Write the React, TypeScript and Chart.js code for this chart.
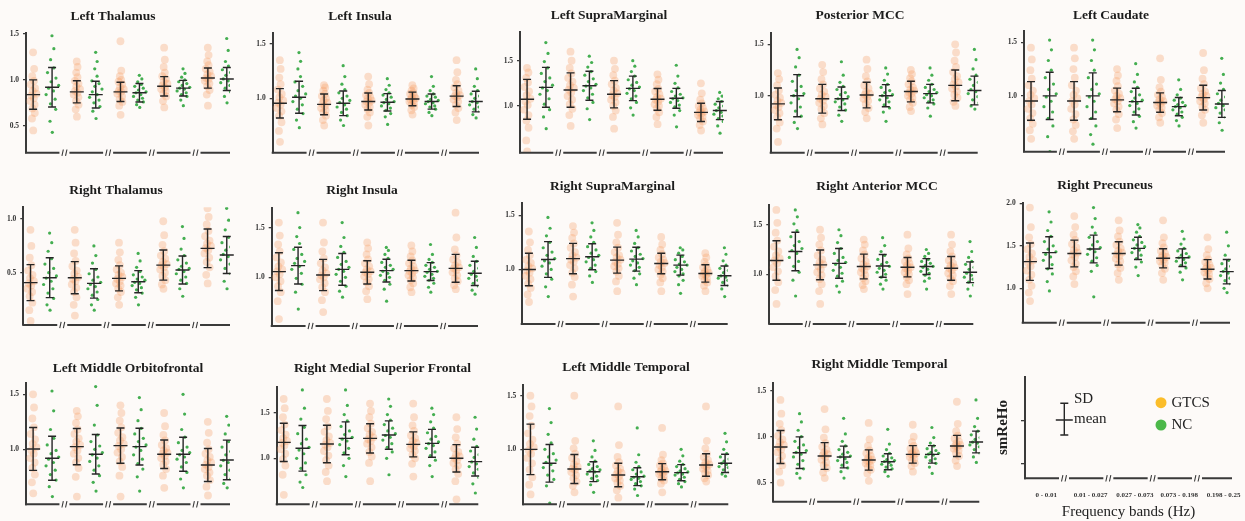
import React, { useEffect, useRef } from "react";
import { Chart, registerables } from "chart.js";

Chart.register(...registerables);

const FONT = '"Liberation Serif", "Times New Roman", "DejaVu Serif", serif';
const BG = "#fdfaf8";
const AXIS = "#3a3a3a";

const BANDS = ["0 - 0.01", "0.01 - 0.027", "0.027 - 0.073", "0.073 - 0.198", "0.198 - 0.25"];
const GROUPS = ["GTCS", "NC"];
const LEGEND_Y_TICKS = [0.14, 0.57];

// ---------- Left Thalamus ----------
const LT_TICKS = [0.5, 1.0, 1.5];
const LT_GTCS_MEAN = [0.84, 0.87, 0.87, 0.93, 1.02];
const LT_GTCS_SD = [0.16, 0.12, 0.105, 0.105, 0.11];
const LT_NC_MEAN = [0.92, 0.84, 0.86, 0.91, 1.01];
const LT_NC_SD = [0.215, 0.145, 0.1, 0.085, 0.125];
const LT_GTCS_PTS = [
  [45, 58, 64, 69, 73, 77, 80, 83, 85, 88, 91, 95, 99, 104, 112, 130],
  [60, 68, 73, 77, 81, 84, 86, 88, 90, 93, 96, 99, 103, 108, 114, 120],
  [62, 72, 76, 79, 82, 85, 87, 88, 90, 92, 95, 98, 100, 104, 110, 142],
  [70, 77, 82, 85, 88, 90, 92, 94, 96, 98, 101, 104, 108, 114, 122, 135],
  [72, 84, 89, 93, 96, 99, 101, 102, 104, 106, 109, 112, 116, 120, 127, 135],
];
const LT_NC_PTS = [
  [43, 55, 68, 74, 79, 84, 88, 91, 94, 98, 102, 108, 113, 122, 134, 148],
  [58, 66, 71, 75, 78, 81, 84, 87, 90, 93, 96, 99, 104, 112, 120, 130],
  [70, 73, 76, 78, 80, 82, 84, 86, 87, 89, 91, 93, 95, 98, 101, 105],
  [72, 78, 82, 84, 86, 88, 90, 91, 92, 94, 96, 98, 100, 103, 107, 112],
  [75, 82, 87, 91, 94, 97, 99, 101, 103, 105, 108, 111, 115, 120, 132, 145],
];

// ---------- Left Insula ----------
const LI_TICKS = [1.0, 1.5];
const LI_GTCS_MEAN = [0.954, 0.944, 0.97, 0.994, 1.02];
const LI_GTCS_SD = [0.135, 0.095, 0.078, 0.063, 0.095];
const LI_NC_MEAN = [1.01, 0.954, 0.963, 0.97, 0.97];
const LI_NC_SD = [0.147, 0.113, 0.08, 0.07, 0.095];
const LI_GTCS_PTS = [
  [60, 70, 78, 84, 88, 91, 94, 96, 98, 101, 104, 108, 113, 119, 127, 135],
  [75, 80, 84, 87, 89, 91, 93, 95, 96, 98, 100, 102, 104, 107, 110, 112],
  [75, 83, 87, 90, 92, 94, 96, 97, 98, 100, 101, 103, 105, 108, 113, 120],
  [85, 89, 92, 94, 96, 97, 98, 99, 100, 101, 102, 104, 105, 107, 109, 112],
  [80, 87, 91, 94, 97, 99, 101, 102, 103, 105, 107, 110, 113, 117, 124, 135],
];
const LI_NC_PTS = [
  [73, 80, 86, 90, 94, 97, 100, 102, 104, 107, 111, 115, 120, 127, 134, 142],
  [75, 80, 84, 87, 90, 92, 94, 96, 98, 100, 102, 105, 108, 113, 120, 130],
  [76, 83, 86, 89, 91, 93, 95, 96, 97, 99, 101, 103, 105, 108, 112, 118],
  [84, 87, 90, 92, 93, 95, 96, 97, 98, 99, 101, 102, 104, 107, 111, 120],
  [82, 85, 88, 90, 92, 94, 96, 97, 98, 100, 102, 104, 107, 111, 118, 127],
];

// ---------- Left SupraMarginal ----------
const LS_TICKS = [1.0, 1.5];
const LS_GTCS_MEAN = [1.074, 1.176, 1.13, 1.074, 0.93];
const LS_GTCS_SD = [0.22, 0.19, 0.15, 0.12, 0.1];
const LS_NC_MEAN = [1.206, 1.224, 1.195, 1.085, 0.95];
const LS_NC_SD = [0.22, 0.16, 0.135, 0.11, 0.1];
const LS_GTCS_PTS = [
  [50, 62, 76, 84, 90, 96, 101, 105, 108, 112, 116, 121, 126, 131, 137, 142],
  [78, 90, 97, 102, 107, 111, 115, 118, 120, 123, 127, 131, 136, 142, 150, 160],
  [75, 88, 95, 100, 104, 107, 110, 112, 114, 117, 120, 124, 128, 134, 141, 150],
  [80, 88, 93, 97, 100, 102, 105, 107, 108, 110, 113, 116, 119, 124, 129, 135],
  [73, 79, 83, 86, 88, 90, 92, 93, 94, 96, 98, 100, 103, 107, 114, 125],
];
const LS_NC_PTS = [
  [75, 88, 96, 102, 108, 113, 117, 120, 123, 127, 131, 136, 142, 149, 158, 170],
  [85, 97, 104, 109, 113, 117, 120, 122, 124, 127, 130, 134, 138, 143, 148, 155],
  [90, 98, 104, 108, 111, 114, 117, 119, 121, 123, 126, 129, 133, 138, 144, 150],
  [77, 90, 95, 99, 101, 104, 106, 108, 109, 111, 113, 116, 120, 125, 133, 145],
  [70, 78, 83, 86, 89, 91, 93, 95, 96, 98, 100, 102, 105, 108, 111, 115],
];

// ---------- Posterior MCC ----------
const PM_TICKS = [1.0, 1.5];
const PM_GTCS_MEAN = [0.92, 0.97, 1.006, 1.04, 1.1];
const PM_GTCS_SD = [0.155, 0.14, 0.125, 0.1, 0.15];
const PM_NC_MEAN = [1.0, 0.97, 1.0, 1.02, 1.05];
const PM_NC_SD = [0.205, 0.115, 0.108, 0.09, 0.14];
const PM_GTCS_PTS = [
  [55, 68, 74, 79, 83, 86, 89, 91, 93, 95, 98, 101, 105, 110, 116, 122],
  [72, 78, 83, 87, 90, 93, 95, 97, 99, 101, 104, 107, 111, 116, 123, 130],
  [78, 84, 88, 92, 95, 97, 99, 101, 102, 104, 107, 110, 114, 119, 126, 135],
  [85, 89, 93, 96, 98, 100, 102, 103, 105, 106, 108, 111, 114, 117, 121, 125],
  [90, 94, 98, 101, 104, 107, 109, 111, 113, 116, 119, 123, 128, 134, 142, 150],
];
const PM_NC_PTS = [
  [68, 74, 80, 85, 89, 93, 97, 100, 102, 105, 109, 114, 120, 128, 137, 145],
  [75, 81, 86, 89, 92, 94, 96, 97, 99, 101, 103, 106, 109, 113, 120, 133],
  [75, 84, 88, 91, 94, 96, 98, 100, 101, 103, 105, 108, 111, 115, 121, 127],
  [80, 88, 92, 94, 96, 98, 100, 101, 103, 104, 106, 108, 111, 115, 120, 127],
  [87, 90, 93, 96, 99, 102, 104, 106, 108, 110, 113, 116, 120, 126, 135, 145],
];

// ---------- Left Caudate ----------
const LC_TICKS = [1.0, 1.5];
const LC_GTCS_MEAN = [0.953, 0.953, 0.963, 0.938, 0.984];
const LC_GTCS_SD = [0.18, 0.18, 0.11, 0.09, 0.115];
const LC_NC_MEAN = [1.0, 1.0, 0.947, 0.9, 0.925];
const LC_NC_SD = [0.22, 0.215, 0.125, 0.085, 0.125];
const LC_GTCS_PTS = [
  [60, 68, 74, 79, 84, 88, 92, 95, 98, 101, 105, 110, 116, 124, 134, 145],
  [60, 67, 73, 78, 83, 88, 92, 95, 98, 101, 105, 110, 117, 125, 135, 145],
  [70, 78, 83, 87, 90, 93, 95, 97, 98, 100, 102, 105, 109, 114, 119, 125],
  [75, 80, 84, 87, 89, 91, 93, 94, 95, 97, 99, 101, 104, 108, 115, 135],
  [75, 82, 87, 90, 93, 95, 97, 99, 100, 102, 104, 107, 111, 116, 124, 140],
];
const LC_NC_PTS = [
  [48, 62, 72, 79, 85, 90, 95, 99, 102, 106, 111, 117, 124, 133, 143, 152],
  [55, 64, 72, 79, 85, 90, 95, 99, 102, 106, 111, 117, 124, 133, 143, 152],
  [70, 76, 81, 85, 88, 91, 93, 95, 96, 98, 101, 104, 108, 113, 120, 130],
  [72, 77, 80, 83, 85, 87, 89, 90, 91, 92, 94, 96, 98, 101, 106, 115],
  [68, 75, 80, 84, 87, 89, 91, 93, 94, 96, 99, 102, 106, 112, 120, 135],
];

// ---------- Right Thalamus ----------
const RT_TICKS = [0.5, 1.0];
const RT_GTCS_MEAN = [0.407, 0.453, 0.447, 0.571, 0.727];
const RT_GTCS_SD = [0.168, 0.15, 0.117, 0.14, 0.18];
const RT_NC_MEAN = [0.453, 0.4, 0.416, 0.525, 0.665];
const RT_NC_SD = [0.186, 0.137, 0.103, 0.13, 0.172];
const RT_GTCS_PTS = [
  [5, 15, 22, 28, 32, 35, 38, 40, 42, 45, 48, 52, 57, 64, 75, 90],
  [10, 20, 27, 32, 36, 39, 42, 44, 46, 49, 52, 56, 61, 68, 78, 90],
  [20, 27, 32, 35, 38, 40, 42, 44, 46, 48, 50, 53, 57, 62, 69, 78],
  [35, 39, 43, 47, 50, 53, 55, 57, 58, 60, 63, 66, 70, 76, 85, 98],
  [40, 48, 55, 60, 64, 68, 71, 73, 75, 77, 80, 84, 89, 95, 102, 110],
];
const RT_NC_PTS = [
  [15, 20, 26, 31, 35, 39, 42, 45, 47, 50, 54, 58, 63, 70, 78, 87],
  [15, 20, 25, 29, 32, 35, 37, 39, 41, 43, 46, 49, 53, 59, 66, 75],
  [20, 27, 31, 34, 36, 38, 40, 41, 43, 44, 46, 48, 51, 55, 61, 68],
  [28, 35, 40, 43, 46, 49, 51, 53, 54, 56, 59, 62, 66, 72, 82, 93],
  [35, 42, 49, 54, 58, 62, 65, 67, 69, 71, 74, 78, 83, 90, 99, 110],
];

// ---------- Right Insula ----------
const RI_TICKS = [1.0, 1.5];
const RI_GTCS_MEAN = [1.057, 1.023, 1.05, 1.067, 1.09];
const RI_GTCS_SD = [0.19, 0.157, 0.117, 0.105, 0.14];
const RI_NC_MEAN = [1.117, 1.08, 1.067, 1.057, 1.04];
const RI_NC_SD = [0.185, 0.16, 0.114, 0.09, 0.122];
const RI_GTCS_PTS = [
  [58, 76, 85, 91, 96, 100, 103, 106, 108, 111, 115, 120, 126, 133, 142, 155],
  [65, 77, 85, 90, 94, 98, 100, 102, 104, 107, 110, 114, 119, 126, 135, 155],
  [78, 86, 91, 95, 98, 101, 103, 105, 106, 108, 111, 114, 118, 123, 129, 135],
  [85, 90, 94, 97, 100, 102, 104, 106, 107, 109, 111, 114, 117, 121, 126, 132],
  [88, 92, 96, 99, 102, 105, 107, 109, 110, 112, 115, 118, 122, 128, 140, 165],
];
const RI_NC_PTS = [
  [68, 85, 93, 99, 104, 108, 111, 114, 116, 119, 123, 128, 134, 141, 150, 165],
  [80, 86, 91, 96, 100, 103, 106, 108, 110, 113, 116, 120, 125, 131, 140, 155],
  [76, 88, 93, 97, 100, 102, 104, 106, 108, 110, 112, 115, 119, 123, 127, 130],
  [85, 90, 94, 97, 99, 101, 103, 105, 106, 108, 110, 112, 115, 118, 123, 133],
  [83, 87, 91, 94, 97, 99, 101, 103, 104, 106, 109, 112, 116, 121, 130, 140],
];

// ---------- Right SupraMarginal ----------
const RS_TICKS = [1.0, 1.5];
const RS_GTCS_MEAN = [1.0, 1.1, 1.086, 1.055, 0.963];
const RS_GTCS_SD = [0.15, 0.14, 0.12, 0.095, 0.08];
const RS_NC_MEAN = [1.092, 1.117, 1.095, 1.04, 0.942];
const RS_NC_SD = [0.165, 0.12, 0.11, 0.092, 0.09];
const RS_GTCS_PTS = [
  [70, 77, 83, 87, 91, 94, 97, 99, 101, 103, 106, 109, 113, 118, 125, 135],
  [75, 86, 93, 97, 101, 104, 107, 109, 111, 113, 116, 120, 124, 129, 134, 140],
  [80, 89, 94, 98, 101, 103, 105, 107, 109, 111, 113, 116, 120, 125, 132, 143],
  [80, 88, 92, 95, 98, 100, 102, 104, 106, 107, 109, 111, 114, 118, 123, 130],
  [80, 85, 88, 90, 92, 94, 95, 96, 97, 98, 100, 102, 104, 107, 111, 115],
];
const RS_NC_PTS = [
  [75, 84, 91, 96, 100, 103, 106, 108, 110, 113, 116, 120, 125, 131, 138, 148],
  [88, 94, 98, 101, 104, 107, 109, 111, 113, 115, 118, 121, 125, 130, 136, 143],
  [86, 92, 96, 99, 102, 104, 106, 108, 110, 112, 114, 117, 120, 124, 130, 136],
  [78, 86, 90, 94, 96, 98, 100, 102, 104, 105, 107, 109, 112, 115, 118, 120],
  [75, 82, 85, 88, 90, 92, 93, 94, 95, 97, 99, 101, 104, 108, 114, 120],
];

// ---------- Right Anterior MCC ----------
const RA_TICKS = [1.0, 1.5];
const RA_GTCS_MEAN = [1.139, 1.095, 1.078, 1.071, 1.06];
const RA_GTCS_SD = [0.2, 0.15, 0.125, 0.098, 0.12];
const RA_NC_MEAN = [1.23, 1.11, 1.084, 1.078, 1.02];
const RA_NC_SD = [0.195, 0.15, 0.115, 0.08, 0.105];
const RA_GTCS_PTS = [
  [70, 84, 92, 98, 103, 107, 111, 114, 116, 119, 123, 128, 134, 142, 152, 165],
  [70, 83, 90, 95, 99, 102, 105, 108, 110, 112, 115, 119, 124, 130, 137, 145],
  [85, 89, 93, 96, 99, 102, 104, 106, 108, 110, 113, 116, 120, 124, 130, 135],
  [80, 90, 94, 97, 100, 102, 104, 106, 107, 109, 111, 113, 116, 120, 126, 140],
  [80, 88, 93, 96, 99, 101, 104, 106, 107, 109, 111, 114, 118, 123, 130, 140],
];
const RA_NC_PTS = [
  [78, 94, 102, 108, 113, 117, 121, 124, 126, 129, 133, 138, 144, 151, 158, 165],
  [82, 88, 93, 98, 101, 104, 107, 110, 112, 114, 117, 121, 126, 132, 139, 145],
  [85, 90, 94, 97, 100, 102, 104, 106, 108, 110, 112, 115, 119, 123, 129, 137],
  [85, 93, 96, 99, 101, 103, 105, 107, 108, 109, 111, 113, 115, 118, 121, 125],
  [78, 85, 89, 92, 95, 97, 99, 101, 103, 105, 107, 110, 113, 117, 123, 133],
];

// ---------- Right Precuneus ----------
const RP_TICKS = [1.0, 1.5, 2.0];
const RP_GTCS_MEAN = [1.314, 1.41, 1.41, 1.353, 1.224];
const RP_GTCS_SD = [0.22, 0.157, 0.137, 0.112, 0.114];
const RP_NC_MEAN = [1.42, 1.463, 1.47, 1.36, 1.196];
const RP_NC_SD = [0.186, 0.163, 0.13, 0.104, 0.143];
const RP_GTCS_PTS = [
  [85, 95, 103, 110, 116, 121, 126, 130, 133, 137, 141, 146, 152, 160, 172, 195],
  [105, 114, 120, 125, 129, 133, 137, 140, 142, 145, 148, 152, 157, 163, 172, 185],
  [110, 118, 124, 128, 132, 135, 138, 140, 142, 144, 147, 151, 155, 161, 168, 180],
  [110, 118, 123, 127, 130, 132, 134, 136, 137, 139, 141, 144, 148, 153, 160, 180],
  [100, 106, 111, 114, 117, 119, 121, 123, 124, 126, 128, 131, 134, 139, 146, 160],
];
const RP_NC_PTS = [
  [97, 108, 117, 123, 128, 133, 137, 140, 143, 146, 150, 155, 161, 168, 178, 190],
  [90, 120, 127, 132, 136, 140, 143, 146, 148, 151, 155, 160, 165, 172, 182, 195],
  [115, 125, 131, 135, 139, 142, 145, 147, 149, 151, 154, 157, 161, 166, 171, 175],
  [110, 119, 124, 127, 130, 132, 134, 136, 137, 139, 141, 144, 147, 152, 158, 167],
  [95, 100, 105, 109, 112, 115, 118, 120, 121, 123, 126, 129, 133, 139, 150, 166],
];

// ---------- Left Middle Orbitofrontal ----------
const LO_TICKS = [1.0, 1.5];
const LO_GTCS_MEAN = [1.003, 1.024, 1.033, 0.955, 0.857];
const LO_GTCS_SD = [0.195, 0.165, 0.16, 0.13, 0.15];
const LO_NC_MEAN = [0.918, 0.955, 1.024, 0.955, 0.903];
const LO_NC_SD = [0.2, 0.18, 0.167, 0.155, 0.18];
const LO_GTCS_PTS = [
  [60, 70, 77, 83, 88, 92, 96, 99, 102, 105, 109, 114, 120, 128, 138, 150],
  [57, 75, 83, 88, 92, 96, 99, 102, 104, 107, 110, 114, 118, 124, 130, 135],
  [57, 76, 84, 89, 93, 97, 100, 103, 105, 108, 111, 115, 120, 126, 133, 140],
  [65, 76, 82, 86, 89, 92, 94, 96, 97, 99, 101, 104, 108, 113, 121, 133],
  [58, 66, 72, 76, 79, 82, 84, 86, 88, 90, 93, 96, 100, 106, 115, 125],
];
const LO_NC_PTS = [
  [57, 66, 72, 77, 81, 85, 88, 91, 93, 96, 99, 104, 110, 118, 135, 153],
  [62, 70, 76, 81, 85, 89, 92, 95, 97, 100, 103, 107, 113, 122, 140, 157],
  [62, 75, 82, 87, 91, 95, 99, 102, 104, 107, 110, 114, 119, 126, 136, 147],
  [65, 73, 79, 84, 88, 91, 93, 95, 97, 99, 102, 106, 111, 118, 132, 150],
  [65, 69, 73, 77, 81, 85, 88, 90, 92, 95, 98, 102, 107, 114, 122, 130],
];

// ---------- Right Medial Superior Frontal ----------
const RM_TICKS = [1.0, 1.5];
const RM_GTCS_MEAN = [1.175, 1.157, 1.219, 1.153, 1.0];
const RM_GTCS_SD = [0.21, 0.205, 0.16, 0.137, 0.15];
const RM_NC_MEAN = [1.11, 1.219, 1.255, 1.164, 0.964];
const RM_NC_SD = [0.25, 0.18, 0.155, 0.153, 0.157];
const RM_GTCS_PTS = [
  [60, 82, 92, 99, 105, 110, 114, 117, 119, 122, 126, 131, 137, 145, 155, 165],
  [75, 85, 92, 98, 103, 108, 112, 115, 117, 120, 124, 129, 135, 143, 152, 165],
  [75, 95, 102, 107, 112, 116, 119, 121, 123, 126, 129, 133, 138, 145, 152, 160],
  [80, 94, 100, 104, 108, 111, 113, 115, 117, 119, 122, 125, 130, 136, 145, 160],
  [55, 75, 83, 88, 92, 95, 98, 100, 102, 104, 107, 111, 116, 123, 132, 145],
];
const RM_NC_PTS = [
  [68, 74, 82, 89, 95, 100, 105, 109, 112, 116, 121, 127, 134, 143, 155, 175],
  [80, 92, 100, 106, 111, 115, 119, 121, 123, 126, 130, 135, 141, 148, 158, 175],
  [82, 100, 107, 112, 116, 120, 123, 125, 127, 130, 133, 137, 142, 148, 157, 165],
  [80, 92, 98, 103, 107, 111, 114, 116, 118, 121, 124, 128, 133, 140, 148, 155],
  [62, 72, 79, 84, 88, 91, 94, 96, 98, 101, 104, 108, 113, 121, 132, 145],
];

// ---------- Left Middle Temporal ----------
const LM_TICKS = [1.0, 1.5];
const LM_GTCS_MEAN = [1.0, 0.817, 0.761, 0.792, 0.854];
const LM_GTCS_SD = [0.235, 0.135, 0.11, 0.075, 0.105];
const LM_NC_MEAN = [0.87, 0.792, 0.745, 0.783, 0.87];
const LM_NC_SD = [0.175, 0.093, 0.083, 0.075, 0.085];
const LM_GTCS_PTS = [
  [58, 67, 74, 81, 87, 92, 96, 99, 102, 105, 109, 115, 122, 131, 140, 150],
  [60, 66, 70, 73, 76, 79, 81, 82, 84, 86, 89, 92, 96, 101, 108, 150],
  [55, 62, 66, 69, 71, 73, 75, 77, 78, 80, 82, 85, 88, 93, 104, 140],
  [60, 68, 71, 73, 75, 77, 78, 79, 80, 81, 83, 85, 87, 90, 95, 120],
  [70, 73, 76, 78, 80, 82, 84, 85, 86, 88, 90, 93, 96, 101, 108, 140],
];
const LM_NC_PTS = [
  [50, 66, 72, 76, 80, 83, 86, 88, 90, 93, 96, 100, 106, 114, 125, 138],
  [60, 67, 71, 73, 75, 77, 79, 80, 81, 82, 84, 86, 89, 93, 99, 108],
  [57, 63, 66, 68, 70, 72, 73, 74, 75, 77, 79, 81, 84, 88, 95, 120],
  [65, 68, 70, 72, 74, 76, 77, 78, 79, 80, 82, 84, 86, 89, 94, 100],
  [75, 77, 79, 81, 83, 84, 86, 87, 88, 89, 91, 93, 96, 100, 107, 115],
];

// ---------- Right Middle Temporal ----------
const RMT_TICKS = [0.5, 1.0, 1.5];
const RMT_GTCS_MEAN = [0.888, 0.79, 0.746, 0.808, 0.899];
const RMT_GTCS_SD = [0.18, 0.145, 0.11, 0.095, 0.115];
const RMT_NC_MEAN = [0.826, 0.779, 0.728, 0.808, 0.942];
const RMT_NC_SD = [0.172, 0.118, 0.087, 0.095, 0.118];
const RMT_GTCS_PTS = [
  [50, 62, 69, 74, 79, 83, 86, 89, 91, 94, 97, 101, 107, 114, 125, 140],
  [55, 61, 66, 69, 72, 75, 78, 80, 81, 83, 86, 89, 93, 99, 108, 130],
  [52, 60, 64, 67, 69, 71, 73, 74, 75, 77, 79, 82, 85, 90, 97, 115],
  [62, 68, 71, 74, 76, 78, 80, 81, 82, 83, 85, 87, 90, 94, 100, 113],
  [68, 74, 79, 82, 85, 87, 89, 90, 91, 93, 95, 98, 101, 106, 114, 138],
];
const RMT_NC_PTS = [
  [55, 60, 65, 70, 74, 78, 81, 83, 85, 88, 91, 95, 100, 107, 116, 125],
  [55, 62, 66, 69, 72, 74, 76, 78, 79, 81, 83, 86, 90, 95, 103, 120],
  [57, 62, 65, 67, 69, 70, 72, 73, 74, 75, 77, 79, 82, 86, 92, 108],
  [60, 67, 71, 74, 76, 78, 80, 81, 82, 83, 85, 87, 90, 93, 99, 110],
  [72, 78, 82, 86, 89, 91, 93, 94, 95, 97, 99, 102, 106, 111, 120, 140],
];

const PANELS = [
  { title: "Left Thalamus", ticks: LT_TICKS, gMean: LT_GTCS_MEAN, gSd: LT_GTCS_SD, nMean: LT_NC_MEAN, nSd: LT_NC_SD, gPts: LT_GTCS_PTS, nPts: LT_NC_PTS },
  { title: "Left Insula", ticks: LI_TICKS, gMean: LI_GTCS_MEAN, gSd: LI_GTCS_SD, nMean: LI_NC_MEAN, nSd: LI_NC_SD, gPts: LI_GTCS_PTS, nPts: LI_NC_PTS },
  { title: "Left SupraMarginal", ticks: LS_TICKS, gMean: LS_GTCS_MEAN, gSd: LS_GTCS_SD, nMean: LS_NC_MEAN, nSd: LS_NC_SD, gPts: LS_GTCS_PTS, nPts: LS_NC_PTS },
  { title: "Posterior MCC", ticks: PM_TICKS, gMean: PM_GTCS_MEAN, gSd: PM_GTCS_SD, nMean: PM_NC_MEAN, nSd: PM_NC_SD, gPts: PM_GTCS_PTS, nPts: PM_NC_PTS },
  { title: "Left Caudate", ticks: LC_TICKS, gMean: LC_GTCS_MEAN, gSd: LC_GTCS_SD, nMean: LC_NC_MEAN, nSd: LC_NC_SD, gPts: LC_GTCS_PTS, nPts: LC_NC_PTS },
  { title: "Right Thalamus", ticks: RT_TICKS, gMean: RT_GTCS_MEAN, gSd: RT_GTCS_SD, nMean: RT_NC_MEAN, nSd: RT_NC_SD, gPts: RT_GTCS_PTS, nPts: RT_NC_PTS },
  { title: "Right Insula", ticks: RI_TICKS, gMean: RI_GTCS_MEAN, gSd: RI_GTCS_SD, nMean: RI_NC_MEAN, nSd: RI_NC_SD, gPts: RI_GTCS_PTS, nPts: RI_NC_PTS },
  { title: "Right SupraMarginal", ticks: RS_TICKS, gMean: RS_GTCS_MEAN, gSd: RS_GTCS_SD, nMean: RS_NC_MEAN, nSd: RS_NC_SD, gPts: RS_GTCS_PTS, nPts: RS_NC_PTS },
  { title: "Right Anterior MCC", ticks: RA_TICKS, gMean: RA_GTCS_MEAN, gSd: RA_GTCS_SD, nMean: RA_NC_MEAN, nSd: RA_NC_SD, gPts: RA_GTCS_PTS, nPts: RA_NC_PTS },
  { title: "Right Precuneus", ticks: RP_TICKS, gMean: RP_GTCS_MEAN, gSd: RP_GTCS_SD, nMean: RP_NC_MEAN, nSd: RP_NC_SD, gPts: RP_GTCS_PTS, nPts: RP_NC_PTS },
  { title: "Left Middle Orbitofrontal", ticks: LO_TICKS, gMean: LO_GTCS_MEAN, gSd: LO_GTCS_SD, nMean: LO_NC_MEAN, nSd: LO_NC_SD, gPts: LO_GTCS_PTS, nPts: LO_NC_PTS },
  { title: "Right Medial Superior Frontal", ticks: RM_TICKS, gMean: RM_GTCS_MEAN, gSd: RM_GTCS_SD, nMean: RM_NC_MEAN, nSd: RM_NC_SD, gPts: RM_GTCS_PTS, nPts: RM_NC_PTS },
  { title: "Left Middle Temporal", ticks: LM_TICKS, gMean: LM_GTCS_MEAN, gSd: LM_GTCS_SD, nMean: LM_NC_MEAN, nSd: LM_NC_SD, gPts: LM_GTCS_PTS, nPts: LM_NC_PTS },
  { title: "Right Middle Temporal", ticks: RMT_TICKS, gMean: RMT_GTCS_MEAN, gSd: RMT_GTCS_SD, nMean: RMT_NC_MEAN, nSd: RMT_NC_SD, gPts: RMT_GTCS_PTS, nPts: RMT_NC_PTS },
];

// Layout (page pixels): axis x0, axis x end, axis top, axis bottom, y min, y max, title centre x, title centre y
const FRAMES = [
  [26, 230, 33, 152.7, 0.208, 1.51, 113, 17],
  [272.7, 479, 33, 152.7, 0.5, 1.6, 360, 17],
  [520, 723, 31.7, 152.7, 0.485, 1.82, 609, 16],
  [770.7, 977.7, 33, 152.7, 0.445, 1.61, 860, 16],
  [1024, 1225, 31, 151.7, 0.48, 1.605, 1111, 16],
  [23.3, 230, 207.3, 325, 0.012, 1.11, 116, 190.7],
  [271.7, 478, 207.7, 326, 0.51, 1.7, 362, 190.7],
  [521.7, 727.7, 203.3, 324, 0.497, 1.61, 612.5, 186.7],
  [769.3, 973.3, 205, 324, 0.497, 1.7, 877, 186.7],
  [1022.7, 1230, 203.3, 322.7, 0.596, 2.0, 1105, 185.7],
  [26, 230, 383.3, 504.3, 0.5, 1.6, 128, 369],
  [276.7, 478.3, 386.7, 504.3, 0.496, 1.785, 382.5, 369],
  [523.3, 728.3, 385, 504.3, 0.488, 1.6, 626, 367.3],
  [773.3, 979.3, 382.7, 501.7, 0.293, 1.587, 879.5, 365],
];

const X_MIN = -0.38;
const X_MAX = 4.29;
const OFF = 0.217;
const JIT = [0.1, -0.7, 0.8, -0.3, 0.5, -0.9, 0.2, -0.5, 0.95, -0.15, 0.6, -0.8, 0.35, -0.4, 0.7, -0.05];

function geom(f) {
  const [x0, xEnd, yTop, yBot, , , , ty] = f;
  const left = Math.floor(x0) - 24;
  const top = Math.floor(ty - 12);
  const width = Math.ceil(xEnd) + 6 - left;
  const height = Math.ceil(yBot) + 4 - top;
  return { left, top, width, height };
}

const LEG = { left: 994, top: 360, width: 251, height: 161 };

function cloud(groups, means, sds, off, a, b) {
  const out = [];
  groups.forEach((pts, i) => {
    pts.forEach((h, j) => {
      const v = h / 100;
      const z = (v - means[i]) / sds[i];
      const w = a + b * Math.exp((-z * z) / 2);
      out.push({ x: i + off + JIT[j % JIT.length] * w, y: v });
    });
  });
  return out;
}

function drawAxisWithBreaks(ctx, xs, left, right, bottom) {
  const breaks = [0.5, 1.5, 2.5, 3.5].map((v) => xs.getPixelForValue(v));
  ctx.strokeStyle = AXIS;
  ctx.lineWidth = 2;
  ctx.beginPath();
  let start = left - 1;
  for (const b of breaks) {
    ctx.moveTo(start, bottom);
    ctx.lineTo(b - 5, bottom);
    start = b + 5;
  }
  ctx.moveTo(start, bottom);
  ctx.lineTo(right, bottom);
  ctx.stroke();
  ctx.lineWidth = 1.1;
  ctx.beginPath();
  for (const b of breaks) {
    for (const d of [-1.8, 1.8]) {
      ctx.moveTo(b + d - 0.7, bottom + 3.2);
      ctx.lineTo(b + d + 0.7, bottom - 3.2);
    }
  }
  ctx.stroke();
}

function errorBar(ctx, x, ym, y1, y2, cap, half) {
  ctx.beginPath();
  ctx.moveTo(x, y1);
  ctx.lineTo(x, y2);
  ctx.moveTo(x - cap, y1);
  ctx.lineTo(x + cap, y1);
  ctx.moveTo(x - cap, y2);
  ctx.lineTo(x + cap, y2);
  ctx.moveTo(x - half, ym);
  ctx.lineTo(x + half, ym);
  ctx.stroke();
}

function makePanel(canvas, p, f, idx) {
  const [x0, xEnd, yTop, yBot, yMin, yMax, tx, ty] = f;
  const g = geom(f);
  const deco = {
    id: "deco" + idx,
    afterDatasetsDraw(chart) {
      const ctx = chart.ctx;
      const xs = chart.scales.x;
      const ys = chart.scales.y;
      const { left, right, bottom } = chart.chartArea;
      ctx.save();
      drawAxisWithBreaks(ctx, xs, left, right, bottom);
      ctx.strokeStyle = "#262626";
      ctx.lineWidth = 1.4;
      const sets = [
        [p.gMean, p.gSd, -OFF],
        [p.nMean, p.nSd, OFF],
      ];
      for (const [means, sds, off] of sets) {
        means.forEach((m, i) => {
          const x = xs.getPixelForValue(i + off);
          errorBar(ctx, x, ys.getPixelForValue(m), ys.getPixelForValue(m + sds[i]), ys.getPixelForValue(m - sds[i]), 4, 7);
        });
      }
      ctx.fillStyle = "#1c1c1c";
      ctx.font = `bold 13.5px ${FONT}`;
      ctx.textAlign = "center";
      ctx.textBaseline = "middle";
      ctx.fillText(p.title, tx - g.left, ty - g.top);
      ctx.restore();
    },
  };
  return new Chart(canvas, {
    type: "scatter",
    data: {
      datasets: [
        {
          label: GROUPS[0],
          data: cloud(p.gPts, p.gMean, p.gSd, -OFF, 0.02, 0.06),
          backgroundColor: "rgba(245,152,92,0.3)",
          borderWidth: 0,
          pointRadius: 3.9,
        },
        {
          label: GROUPS[1],
          data: cloud(p.nPts, p.nMean, p.nSd, OFF, 0.04, 0.12),
          backgroundColor: "rgba(48,165,62,0.9)",
          borderWidth: 0,
          pointRadius: 1.6,
        },
      ],
    },
    options: {
      animation: false,
      responsive: false,
      events: [],
      layout: {
        padding: {
          left: 0,
          top: yTop - g.top,
          right: g.width - (xEnd - g.left),
          bottom: g.height - (yBot - g.top),
        },
      },
      plugins: { legend: { display: false }, tooltip: { enabled: false }, title: { display: false } },
      scales: {
        x: { type: "linear", min: X_MIN, max: X_MAX, display: false },
        y: {
          type: "linear",
          min: yMin,
          max: yMax,
          border: { display: true, color: AXIS, width: 2 },
          grid: { display: true, drawOnChartArea: false, drawTicks: true, tickLength: 3, color: AXIS, lineWidth: 1.3 },
          ticks: {
            font: { family: FONT, size: 7.5, weight: "bold" },
            color: "#333",
            padding: 4,
            callback: (v) => Number(v).toFixed(1),
          },
          afterBuildTicks: (s) => {
            s.ticks = p.ticks.map((v) => ({ value: v }));
          },
          afterFit: (s) => {
            s.width = x0 - g.left;
            s.paddingTop = 0;
            s.paddingBottom = 0;
          },
        },
      },
    },
    plugins: [deco],
  });
}

function makeLegend(canvas) {
  const L = LEG;
  const deco = {
    id: "legendDeco",
    afterDatasetsDraw(chart) {
      const ctx = chart.ctx;
      const xs = chart.scales.x;
      const { left, right, bottom } = chart.chartArea;
      ctx.save();
      drawAxisWithBreaks(ctx, xs, left, right, bottom);
      ctx.strokeStyle = "#262626";
      ctx.lineWidth = 1.4;
      errorBar(ctx, 1064.3 - L.left, 420 - L.top, 403.3 - L.top, 435 - L.top, 4, 8.5);
      ctx.fillStyle = "#222";
      ctx.font = `15px ${FONT}`;
      ctx.textAlign = "left";
      ctx.textBaseline = "middle";
      ctx.fillText("SD", 1074 - L.left, 399 - L.top);
      ctx.fillText("mean", 1074 - L.left, 419 - L.top);
      ctx.fillText(GROUPS[0], 1171.5 - L.left, 403 - L.top);
      ctx.fillText(GROUPS[1], 1171.5 - L.left, 425.5 - L.top);
      ctx.fillStyle = "#fbbd2a";
      ctx.beginPath();
      ctx.arc(1161 - L.left, 402.7 - L.top, 5.5, 0, Math.PI * 2);
      ctx.fill();
      ctx.fillStyle = "#4cb84a";
      ctx.beginPath();
      ctx.arc(1161 - L.left, 425 - L.top, 5.5, 0, Math.PI * 2);
      ctx.fill();
      ctx.restore();
    },
  };
  const areaLeft = 1025 - L.left;
  const areaTop = 376.7 - L.top;
  const areaRight = 1232 - L.left;
  const areaBottom = 478.3 - L.top;
  return new Chart(canvas, {
    type: "scatter",
    data: { datasets: [] },
    options: {
      animation: false,
      responsive: false,
      events: [],
      layout: { padding: { left: 0, top: areaTop, right: L.width - areaRight, bottom: 0 } },
      plugins: { legend: { display: false }, tooltip: { enabled: false } },
      scales: {
        x: {
          type: "linear",
          position: "bottom",
          min: X_MIN,
          max: X_MAX,
          border: { display: false },
          grid: { display: false, drawTicks: false },
          ticks: {
            font: { family: FONT, size: 7, weight: "bold" },
            color: "#333",
            padding: 13,
            maxRotation: 0,
            minRotation: 0,
            autoSkip: false,
            callback: (v, i) => BANDS[i],
          },
          afterBuildTicks: (s) => {
            s.ticks = BANDS.map((_, i) => ({ value: i + 0.1 }));
          },
          afterFit: (s) => {
            s.height = L.height - areaBottom;
            s.paddingLeft = 0;
            s.paddingRight = 0;
          },
          title: {
            display: true,
            text: "Frequency bands (Hz)",
            font: { family: FONT, size: 15 },
            color: "#222",
            padding: 0,
          },
        },
        y: {
          type: "linear",
          min: 0,
          max: 1,
          border: { display: true, color: AXIS, width: 2 },
          grid: { display: true, drawOnChartArea: false, drawTicks: true, tickLength: 4, color: AXIS, lineWidth: 1.3 },
          ticks: { callback: () => "" },
          afterBuildTicks: (s) => {
            s.ticks = LEGEND_Y_TICKS.map((v) => ({ value: v }));
          },
          afterFit: (s) => {
            s.width = areaLeft;
            s.paddingTop = 0;
            s.paddingBottom = 0;
          },
          title: {
            display: true,
            text: "smReHo",
            font: { family: FONT, size: 15, weight: "bold", lineHeight: 1.25 },
            color: "#222",
            padding: 0,
          },
        },
      },
    },
    plugins: [deco],
  });
}

export default function App() {
  const refs = useRef([]);
  const legRef = useRef(null);

  useEffect(() => {
    const charts = PANELS.map((p, i) => makePanel(refs.current[i], p, FRAMES[i], i));
    charts.push(makeLegend(legRef.current));
    return () => charts.forEach((c) => c.destroy());
  }, []);

  return (
    <div
      style={{
        position: "fixed",
        left: 0,
        top: 0,
        width: 1245,
        height: 521,
        background: BG,
        overflow: "hidden",
      }}
    >
      {PANELS.map((p, i) => {
        const g = geom(FRAMES[i]);
        return (
          <canvas
            key={p.title}
            ref={(el) => {
              refs.current[i] = el;
            }}
            width={g.width}
            height={g.height}
            style={{ position: "absolute", left: g.left, top: g.top, width: g.width, height: g.height }}
          />
        );
      })}
      <canvas
        ref={legRef}
        width={LEG.width}
        height={LEG.height}
        style={{ position: "absolute", left: LEG.left, top: LEG.top, width: LEG.width, height: LEG.height }}
      />
    </div>
  );
}
